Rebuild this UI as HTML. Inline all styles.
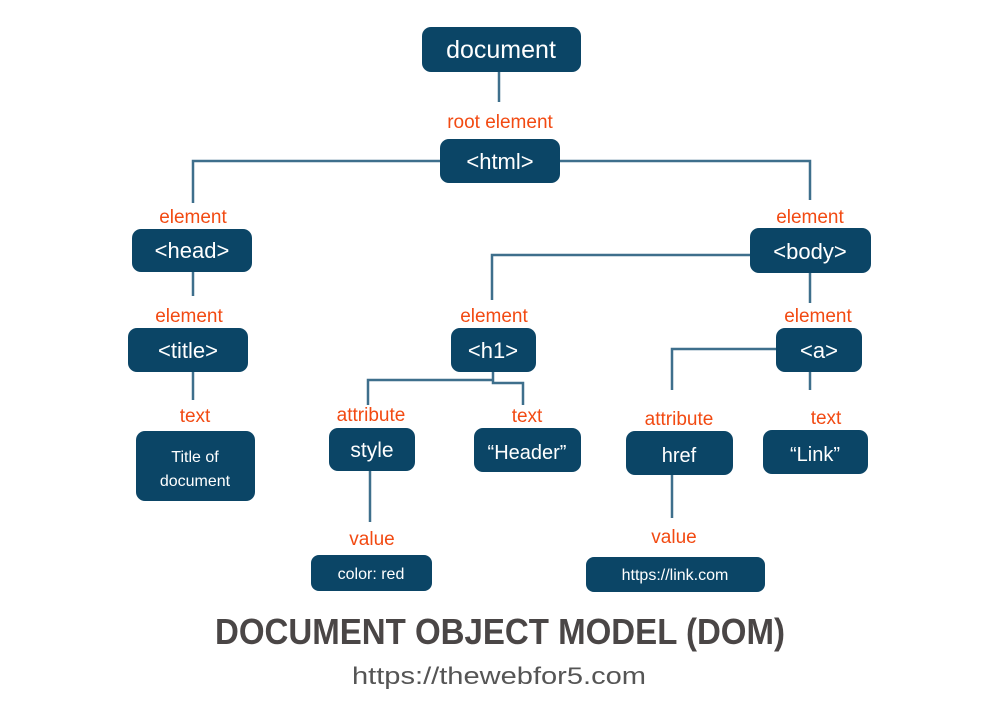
<!DOCTYPE html>
<html><head><meta charset="utf-8"><style>
html,body{margin:0;padding:0;background:#fff;}
svg{display:block;}
.b{fill:#0b4566;}
.l{stroke:#3e6f8c;stroke-width:2.5;fill:none;}
.o{fill:#f24a12;font-family:"Liberation Sans",sans-serif;font-size:19px;text-anchor:middle;}
.w{fill:#fff;font-family:"Liberation Sans",sans-serif;text-anchor:middle;}
</style></head><body>
<svg width="1000" height="708" viewBox="0 0 1000 708">
<rect width="1000" height="708" fill="#fff"/>
<g class="l">
<path d="M499 72V102"/>
<path d="M440 161H193V203"/>
<path d="M560 161H810V200"/>
<path d="M193 272V296"/>
<path d="M193 372V400"/>
<path d="M751 255H492V300"/>
<path d="M810 273V303"/>
<path d="M493 372V383H523V405"/>
<path d="M493 380H368V405"/>
<path d="M370 471V522"/>
<path d="M777 349H672V390"/>
<path d="M810 372V390"/>
<path d="M672 475V518"/>
</g>
<g>
<rect class="b" x="422" y="27" width="159" height="45" rx="9"/>
<rect class="b" x="440" y="139" width="120" height="44" rx="9"/>
<rect class="b" x="132" y="229" width="120" height="43" rx="9"/>
<rect class="b" x="750" y="228" width="121" height="45" rx="9"/>
<rect class="b" x="128" y="328" width="120" height="44" rx="9"/>
<rect class="b" x="451" y="328" width="85" height="44" rx="9"/>
<rect class="b" x="776" y="328" width="86" height="44" rx="9"/>
<rect class="b" x="136" y="431" width="119" height="70" rx="9"/>
<rect class="b" x="329" y="428" width="86" height="43" rx="9"/>
<rect class="b" x="474" y="428" width="107" height="44" rx="9"/>
<rect class="b" x="626" y="431" width="107" height="44" rx="9"/>
<rect class="b" x="763" y="430" width="105" height="44" rx="9"/>
<rect class="b" x="311" y="555" width="121" height="36" rx="8"/>
<rect class="b" x="586" y="557" width="179" height="35" rx="8"/>
</g>
<g class="o">
<text x="500" y="128">root element</text>
<text x="193" y="223">element</text>
<text x="810" y="223">element</text>
<text x="189" y="322">element</text>
<text x="494" y="322">element</text>
<text x="818" y="322">element</text>
<text x="195" y="422">text</text>
<text x="371" y="421">attribute</text>
<text x="527" y="422">text</text>
<text x="679" y="425">attribute</text>
<text x="826" y="424">text</text>
<text x="372" y="545">value</text>
<text x="674" y="543">value</text>
</g>
<g class="w">
<text x="501" y="58" font-size="25">document</text>
<text x="500" y="169" font-size="22">&lt;html&gt;</text>
<text x="192" y="258" font-size="22">&lt;head&gt;</text>
<text x="810" y="259" font-size="22">&lt;body&gt;</text>
<text x="188" y="358" font-size="22">&lt;title&gt;</text>
<text x="493" y="358" font-size="22">&lt;h1&gt;</text>
<text x="819" y="358" font-size="22">&lt;a&gt;</text>
<text x="195" y="462" font-size="16">Title of</text>
<text x="195" y="486" font-size="16">document</text>
<text x="372" y="457" font-size="21">style</text>
<text x="527" y="459" font-size="20">“Header”</text>
<text x="679" y="462" font-size="20">href</text>
<text x="815" y="461" font-size="20">“Link”</text>
<text x="371" y="579" font-size="16">color: red</text>
<text x="675" y="580" font-size="16">https://link.com</text>
</g>
<text x="500" y="644" font-family="Liberation Sans,sans-serif" font-weight="bold" font-size="36" fill="#4a4646" text-anchor="middle" textLength="570" lengthAdjust="spacingAndGlyphs">DOCUMENT OBJECT MODEL (DOM)</text>
<text x="499" y="684" font-family="Liberation Sans,sans-serif" font-size="24" fill="#555" text-anchor="middle" textLength="294" lengthAdjust="spacingAndGlyphs">https://thewebfor5.com</text>
</svg>
</body></html>
